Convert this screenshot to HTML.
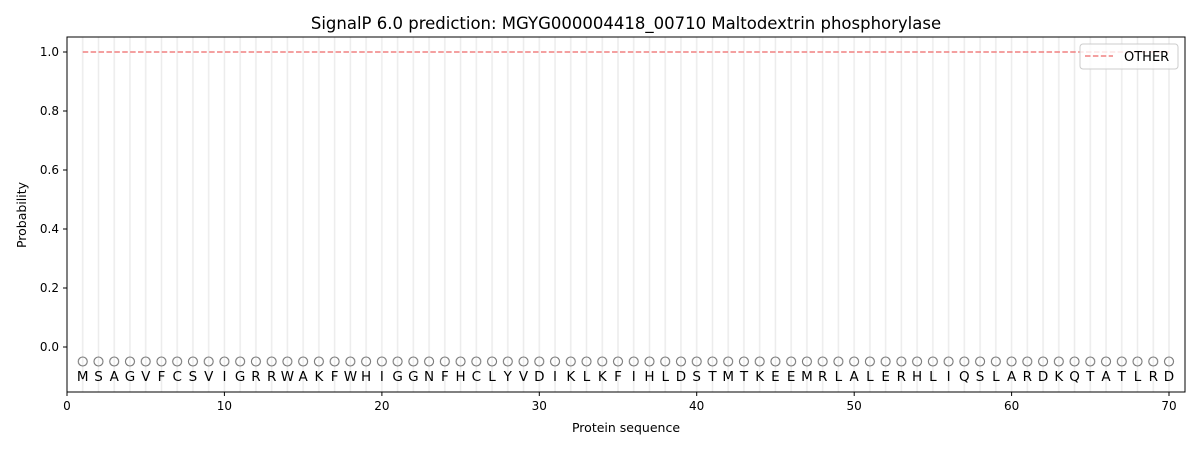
<!DOCTYPE html>
<html><head><meta charset="utf-8"><style>body{margin:0;background:#fff}svg{display:block;font-family:"DejaVu Sans","Liberation Sans",sans-serif}</style></head><body>
<svg width="1200" height="450" viewBox="0 0 1200 450">
<defs>
<pattern id="g" patternUnits="userSpaceOnUse" x="74.87" y="0" width="15.743" height="450">
<line x1="7.87" y1="0" x2="7.87" y2="450" stroke="#ececec" stroke-width="1.5"/>
</pattern>
<pattern id="c" patternUnits="userSpaceOnUse" x="74.87" y="350" width="15.743" height="30">
<circle cx="7.87" cy="11.5" r="4.5" fill="none" stroke="#777" stroke-width="1.1"/>
</pattern>
</defs>
<rect x="75" y="37" width="1102" height="355" fill="url(#g)"/>
<rect x="75" y="350" width="1102" height="25" fill="url(#c)"/>
<line x1="82.74" y1="52" x2="1169" y2="52" stroke="#f08080" stroke-width="1.5" stroke-dasharray="5.5,2.4"/>
<text y="381" font-size="13.5" text-anchor="middle" x="82.74 98.49 114.23 129.97 145.72 161.46 177.20 192.94 208.69 224.43 240.17 255.92 271.66 287.40 303.15 318.89 334.63 350.37 366.12 381.86 397.60 413.35 429.09 444.83 460.58 476.32 492.06 507.80 523.55 539.29 555.03 570.78 586.52 602.26 618.01 633.75 649.49 665.23 680.98 696.72 712.46 728.21 743.95 759.69 775.44 791.18 806.92 822.66 838.41 854.15 869.89 885.64 901.38 917.12 932.87 948.61 964.35 980.09 995.84 1011.58 1027.32 1043.07 1058.81 1074.55 1090.30 1106.04 1121.78 1137.52 1153.27 1169.01">MSAGVFCSVIGRRWAKFWHIGGNFHCLYVDIKLKFIHLDSTMTKEEMRLALERHLIQSLARDKQTATLRD</text>
<rect x="67" y="37" width="1118" height="355" fill="none" stroke="#000" stroke-width="1"/>
<g stroke="#000" stroke-width="1">
<line x1="67" y1="392" x2="67" y2="396"/><line x1="224.4" y1="392" x2="224.4" y2="396"/><line x1="381.9" y1="392" x2="381.9" y2="396"/><line x1="539.3" y1="392" x2="539.3" y2="396"/><line x1="696.7" y1="392" x2="696.7" y2="396"/><line x1="854.2" y1="392" x2="854.2" y2="396"/><line x1="1011.6" y1="392" x2="1011.6" y2="396"/><line x1="1169" y1="392" x2="1169" y2="396"/>
<line x1="63" y1="347" x2="67" y2="347"/><line x1="63" y1="288" x2="67" y2="288"/><line x1="63" y1="229" x2="67" y2="229"/><line x1="63" y1="170" x2="67" y2="170"/><line x1="63" y1="111" x2="67" y2="111"/><line x1="63" y1="52" x2="67" y2="52"/>
</g>
<g font-size="12" text-anchor="middle">
<text x="67" y="410">0</text><text x="224.4" y="410">10</text><text x="381.9" y="410">20</text><text x="539.3" y="410">30</text><text x="696.7" y="410">40</text><text x="854.2" y="410">50</text><text x="1011.6" y="410">60</text><text x="1169" y="410">70</text>
</g>
<g font-size="12" text-anchor="end">
<text x="59" y="351">0.0</text><text x="59" y="292">0.2</text><text x="59" y="233">0.4</text><text x="59" y="174">0.6</text><text x="59" y="115">0.8</text><text x="59" y="56">1.0</text>
</g>
<text x="626" y="432" font-size="12.5" text-anchor="middle">Protein sequence</text>
<text x="26" y="215" font-size="12.5" text-anchor="middle" transform="rotate(-90 26 215)">Probability</text>
<text x="626" y="29" font-size="16.5" text-anchor="middle">SignalP 6.0 prediction: MGYG000004418_00710 Maltodextrin phosphorylase</text>
<rect x="1080" y="44" width="98" height="25" rx="3" fill="#fff" fill-opacity="0.8" stroke="#ccc"/>
<line x1="1085" y1="56" x2="1113" y2="56" stroke="#f08080" stroke-width="1.5" stroke-dasharray="5.5,2.4"/>
<text x="1124" y="61" font-size="13">OTHER</text>
</svg>
</body></html>
